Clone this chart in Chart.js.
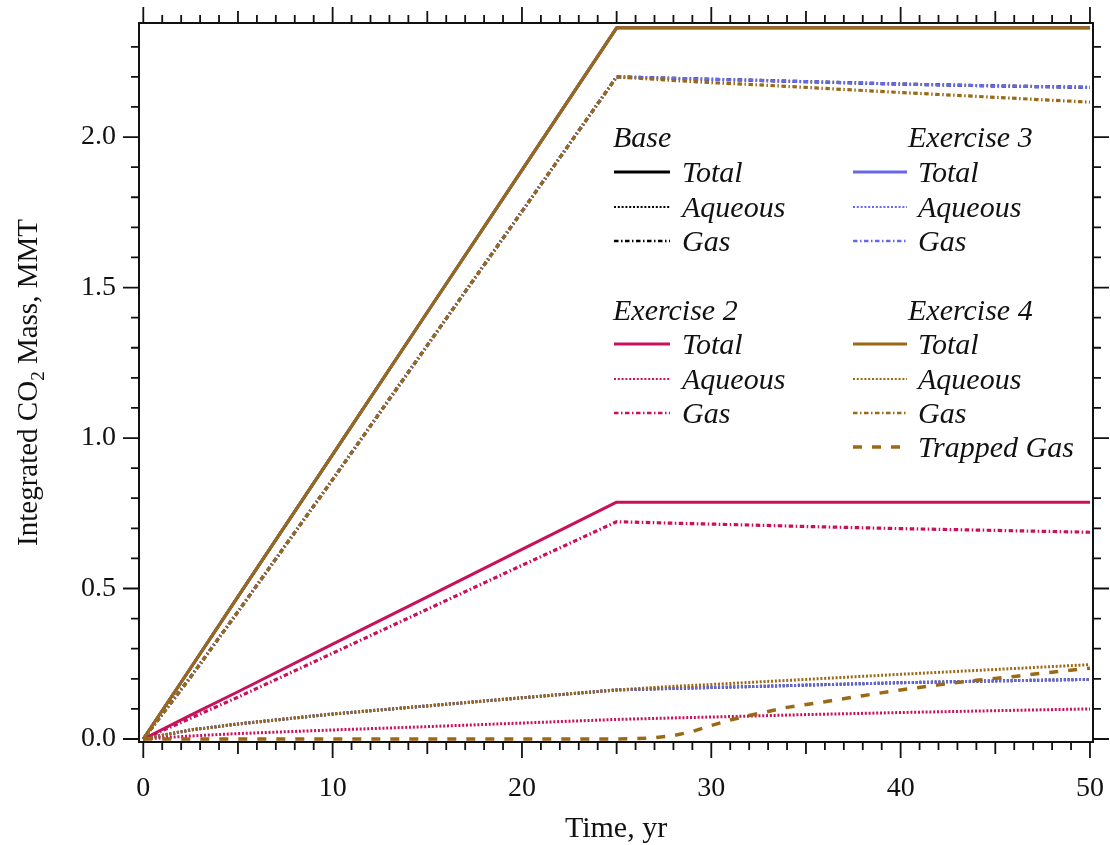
<!DOCTYPE html>
<html>
<head>
<meta charset="utf-8">
<title>Integrated CO2 Mass</title>
<script src="https://cdn.jsdelivr.net/npm/chart.js@4.4.1/dist/chart.umd.min.js"></script>
<style>
  html, body { margin: 0; padding: 0; background: #fff; }
  #wrap { width: 1110px; height: 845px; position: relative; }
</style>
</head>
<body>
<div id="wrap"><canvas id="c"></canvas></div>
<script>
// Simulation output times (yr)
const years = [0, 2.5, 5, 10, 15, 20, 25, 28, 30, 32, 35, 40, 45, 50];
const trappedYears = [0, 25, 26, 27, 28, 29, 30, 31, 32, 34, 36, 38, 40, 42, 44, 46, 48, 50];

// Axis tick labels
const xTickValues = [0, 10, 20, 30, 40, 50];
const yTickValues = [0, 0.5, 1.0, 1.5, 2.0];

// Base case (MMT)
const baseTotal   = [0, 0.236, 0.473, 0.945, 1.418, 1.890, 2.363, 2.363, 2.363, 2.363, 2.363, 2.363, 2.363, 2.363];
const baseAqueous = [0, 0.030, 0.050, 0.083, 0.110, 0.137, 0.163, 0.168, 0.171, 0.174, 0.179, 0.187, 0.193, 0.198];
const baseGas     = [0, 0.206, 0.423, 0.862, 1.308, 1.753, 2.200, 2.195, 2.192, 2.189, 2.184, 2.176, 2.170, 2.165];

// Exercise 2
const ex2Total   = [0, 0.079, 0.157, 0.315, 0.472, 0.630, 0.787, 0.787, 0.787, 0.787, 0.787, 0.787, 0.787, 0.787];
const ex2Aqueous = [0, 0.010, 0.018, 0.030, 0.041, 0.053, 0.065, 0.070, 0.073, 0.076, 0.081, 0.088, 0.094, 0.100];
const ex2Gas     = [0, 0.069, 0.139, 0.285, 0.431, 0.577, 0.722, 0.717, 0.714, 0.711, 0.706, 0.699, 0.693, 0.687];

// Exercise 3
const ex3Total   = [0, 0.236, 0.473, 0.945, 1.418, 1.890, 2.363, 2.363, 2.363, 2.363, 2.363, 2.363, 2.363, 2.363];
const ex3Aqueous = [0, 0.030, 0.050, 0.083, 0.110, 0.137, 0.163, 0.168, 0.171, 0.174, 0.179, 0.187, 0.193, 0.198];
const ex3Gas     = [0, 0.206, 0.423, 0.862, 1.308, 1.753, 2.200, 2.195, 2.192, 2.189, 2.184, 2.176, 2.170, 2.165];

// Exercise 4
const ex4Total   = [0, 0.236, 0.473, 0.945, 1.418, 1.890, 2.363, 2.363, 2.363, 2.363, 2.363, 2.363, 2.363, 2.363];
const ex4Aqueous = [0, 0.030, 0.050, 0.083, 0.110, 0.137, 0.163, 0.175, 0.181, 0.188, 0.198, 0.215, 0.231, 0.247];
const ex4Gas     = [0, 0.206, 0.423, 0.862, 1.308, 1.753, 2.200, 2.188, 2.181, 2.175, 2.165, 2.148, 2.132, 2.116];
const ex4Trapped = [0, 0, 0.001, 0.004, 0.011, 0.025, 0.045, 0.063, 0.078, 0.105, 0.124, 0.144, 0.163, 0.180, 0.195, 0.208, 0.222, 0.235];

const COLORS = { base: '#000000', ex2: '#C8115A', ex3: '#6767EC', ex4: '#9B6916' };
const STYLES = {
  Total:         { dash: [],                   width: 3,   legendWidth: 3 },
  Aqueous:       { dash: [2, 1.8],             width: 3,   legendWidth: 2 },
  Gas:           { dash: [4.5, 2.5, 1.5, 2.5], width: 3.2, legendWidth: 2.5 },
  'Trapped Gas': { dash: [9, 10],              width: 3.5, legendWidth: 3.5 }
};

const SERIF = '"Liberation Serif", "Times New Roman", serif';

function series(group, kind, xs, ys, color, order) {
  const st = STYLES[kind];
  return {
    label: group + ' ' + kind,
    group: group,
    kind: kind,
    data: xs.map((x, i) => ({ x: x, y: ys[i] })),
    borderColor: color,
    backgroundColor: color,
    borderWidth: st.width,
    borderDash: st.dash,
    legendWidth: st.legendWidth,
    fill: false,
    order: order
  };
}

const datasets = [
  series('Exercise 4', 'Trapped Gas', trappedYears, ex4Trapped, COLORS.ex4, 0),
  series('Exercise 4', 'Total',   years, ex4Total,   COLORS.ex4, 0),
  series('Exercise 4', 'Aqueous', years, ex4Aqueous, COLORS.ex4, 0),
  series('Exercise 4', 'Gas',     years, ex4Gas,     COLORS.ex4, 0),
  series('Exercise 2', 'Total',   years, ex2Total,   COLORS.ex2, 1),
  series('Exercise 2', 'Aqueous', years, ex2Aqueous, COLORS.ex2, 1),
  series('Exercise 2', 'Gas',     years, ex2Gas,     COLORS.ex2, 1),
  series('Exercise 3', 'Total',   years, ex3Total,   COLORS.ex3, 2),
  series('Exercise 3', 'Aqueous', years, ex3Aqueous, COLORS.ex3, 2),
  series('Exercise 3', 'Gas',     years, ex3Gas,     COLORS.ex3, 2),
  series('Base', 'Total',   years, baseTotal,   COLORS.base, 3),
  series('Base', 'Aqueous', years, baseAqueous, COLORS.base, 3),
  series('Base', 'Gas',     years, baseGas,     COLORS.base, 3)
];

// Legend blocks: two columns, two bands of groups
const LEGEND_BLOCKS = [
  { group: 'Base',       titleX: 613, lineX0: 614, lineX1: 670, textX: 682, titleY: 147, rowY: [172, 207, 241] },
  { group: 'Exercise 3', titleX: 908, lineX0: 853, lineX1: 907, textX: 918, titleY: 147, rowY: [172, 207, 241] },
  { group: 'Exercise 2', titleX: 613, lineX0: 614, lineX1: 670, textX: 682, titleY: 320, rowY: [344, 379, 413] },
  { group: 'Exercise 4', titleX: 908, lineX0: 853, lineX1: 907, textX: 918, titleY: 320, rowY: [344, 379, 413, 447] }
];
const KIND_ORDER = ['Total', 'Aqueous', 'Gas', 'Trapped Gas'];

const frameAndLegend = {
  id: 'frameAndLegend',
  afterDraw(chart) {
    const { ctx, chartArea: a, scales: { x, y } } = chart;
    ctx.save();

    // plot frame
    ctx.strokeStyle = '#111';
    ctx.lineWidth = 2;
    ctx.strokeRect(a.left, a.top, a.right - a.left, a.bottom - a.top);

    // outward tick marks on all four sides
    ctx.lineWidth = 1.8;
    ctx.beginPath();
    for (let v = 0; v <= 50; v++) {
      const px = x.getPixelForValue(v);
      const len = v % 10 === 0 ? 16 : (v % 5 === 0 ? 12 : 8);
      ctx.moveTo(px, a.bottom); ctx.lineTo(px, a.bottom + len);
      ctx.moveTo(px, a.top);    ctx.lineTo(px, a.top - len);
    }
    for (let i = 0; i <= 23; i++) {
      const py = y.getPixelForValue(i / 10);
      const len = i % 5 === 0 ? 16 : 8;
      ctx.moveTo(a.left, py);  ctx.lineTo(a.left - len, py);
      ctx.moveTo(a.right, py); ctx.lineTo(a.right + len, py);
    }
    ctx.stroke();

    // axis titles
    ctx.fillStyle = '#111';
    ctx.font = '30px ' + SERIF;
    ctx.textAlign = 'center';
    ctx.textBaseline = 'alphabetic';
    ctx.fillText('Time, yr', (a.left + a.right) / 2, 837);

    ctx.save();
    ctx.translate(37, (a.top + a.bottom) / 2);
    ctx.rotate(-Math.PI / 2);
    const big = '29px ' + SERIF, small = '19px ' + SERIF;
    const p1 = 'Integrated CO', p2 = '2', p3 = ' Mass, MMT';
    ctx.font = big;  const w1 = ctx.measureText(p1).width, w3 = ctx.measureText(p3).width;
    ctx.font = small; const w2 = ctx.measureText(p2).width;
    let cx = -(w1 + w2 + w3) / 2;
    ctx.textAlign = 'left';
    ctx.font = big;   ctx.fillText(p1, cx, 0); cx += w1;
    ctx.font = small; ctx.fillText(p2, cx, 7); cx += w2;
    ctx.font = big;   ctx.fillText(p3, cx, 0);
    ctx.restore();

    // grouped legend
    ctx.textAlign = 'left';
    ctx.textBaseline = 'alphabetic';
    LEGEND_BLOCKS.forEach(b => {
      ctx.font = 'italic 30px ' + SERIF;
      ctx.fillStyle = '#111';
      ctx.fillText(b.group, b.titleX, b.titleY);
      const items = chart.data.datasets
        .filter(d => d.group === b.group)
        .sort((p, q) => KIND_ORDER.indexOf(p.kind) - KIND_ORDER.indexOf(q.kind));
      items.forEach((d, i) => {
        const ly = b.rowY[i];
        ctx.beginPath();
        ctx.setLineDash(d.borderDash);
        ctx.lineWidth = d.legendWidth;
        ctx.strokeStyle = d.borderColor;
        ctx.moveTo(b.lineX0, ly);
        ctx.lineTo(b.lineX1, ly);
        ctx.stroke();
        ctx.setLineDash([]);
        ctx.fillStyle = '#111';
        ctx.fillText(d.kind, b.textX, ly + 10);
      });
    });

    ctx.restore();
  }
};

// fixed scale sizes so the plot box sits at a known place
function fixScale(size) {
  return s => {
    if (s.isHorizontal()) s.height = size; else s.width = size;
    s.paddingTop = 0; s.paddingBottom = 0; s.paddingLeft = 0; s.paddingRight = 0;
  };
}

new Chart(document.getElementById('c'), {
  type: 'line',
  data: { datasets: datasets },
  plugins: [frameAndLegend],
  options: {
    responsive: true,
    maintainAspectRatio: false,
    animation: false,
    layout: { padding: { top: 23, right: 17, left: 0, bottom: 0 } },
    plugins: { legend: { display: false }, tooltip: { enabled: false } },
    elements: {
      point: { radius: 0, hoverRadius: 0 },
      line: { tension: 0, borderCapStyle: 'butt', borderJoinStyle: 'round' }
    },
    scales: {
      x: {
        type: 'linear',
        min: -0.227,
        max: 50.16,
        afterBuildTicks: s => { s.ticks = xTickValues.map(v => ({ value: v })); },
        afterFit: fixScale(103),
        grid: { display: false, drawTicks: false },
        border: { display: false },
        ticks: {
          padding: 30,
          autoSkip: false,
          maxRotation: 0,
          color: '#111',
          font: { family: SERIF, size: 28 },
          callback: v => String(v)
        }
      },
      y: {
        type: 'linear',
        min: -0.01,
        max: 2.379,
        afterBuildTicks: s => { s.ticks = yTickValues.map(v => ({ value: v })); },
        afterFit: fixScale(139),
        grid: { display: false, drawTicks: false },
        border: { display: false },
        ticks: {
          padding: 23,
          autoSkip: false,
          color: '#111',
          font: { family: SERIF, size: 28 },
          callback: v => Number(v).toFixed(1)
        }
      }
    }
  }
});
</script>
</body>
</html>
